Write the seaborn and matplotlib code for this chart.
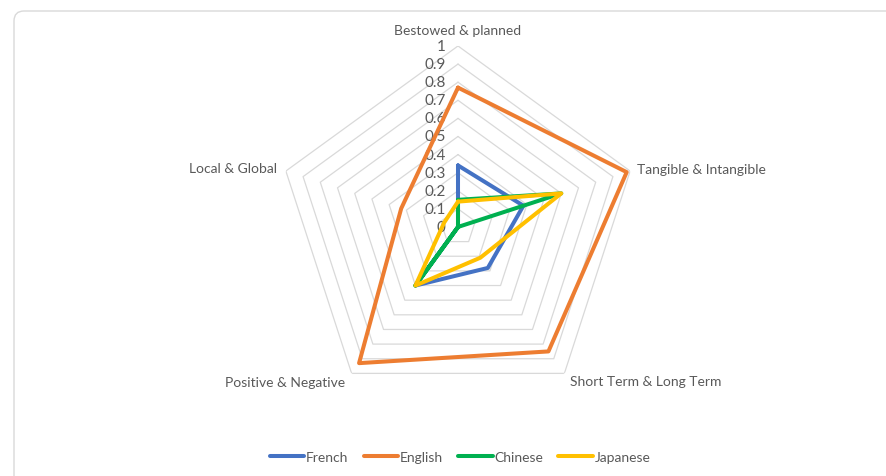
import numpy as np
import pandas as pd
import matplotlib
matplotlib.use('Agg')
import matplotlib.pyplot as plt
from matplotlib.patches import FancyBboxPatch
import seaborn as sns

categories = ['Bestowed & planned', 'Tangible & Intangible', 'Short Term & Long Term',
              'Positive & Negative', 'Local & Global']
french = [0.34, 0.38, 0.28, 0.40, 0.0]
english = [0.77, 0.98, 0.85, 0.93, 0.33]
chinese = [0.15, 0.60, 0.0, 0.40, 0.0]
japanese = [0.14, 0.60, 0.21, 0.40, 0.08]
ticks = [0, 0.1, 0.2, 0.3, 0.4, 0.5, 0.6, 0.7, 0.8, 0.9, 1]
tick_labels = ['0', '0.1', '0.2', '0.3', '0.4', '0.5', '0.6', '0.7', '0.8', '0.9', '1']

series = {'French': french, 'English': english, 'Chinese': chinese, 'Japanese': japanese}
colors = {'French': '#4472C4', 'English': '#ED7D31', 'Chinese': '#00B050', 'Japanese': '#FFC000'}

sns.set_style('white')
plt.rcParams['font.family'] = ['Lato', 'DejaVu Sans']
text_color = '#595959'

n = len(categories)
angles = np.linspace(0, 2 * np.pi, n, endpoint=False)
angles_closed = np.append(angles, 2 * np.pi)

# long form table, each series closed back to its first point
rows = []
for name, vals in series.items():
    for a, v in zip(angles_closed, vals + vals[:1]):
        rows.append({'theta': a, 'value': v, 'language': name})
df = pd.DataFrame(rows)

fig = plt.figure(figsize=(8.87, 4.77), dpi=100)
ax = fig.add_axes([0.3123, 0.1426, 0.4081, 0.759], projection='polar')
ax.set_theta_offset(np.pi / 2)
ax.set_theta_direction(-1)
ax.set_ylim(0, 1)
ax.grid(False)
ax.spines['polar'].set_visible(False)
ax.set_xticks([])
ax.set_yticks([])
ax.patch.set_alpha(0)

# pentagon gridlines
for t in ticks[1:]:
    ax.plot(angles_closed, [t] * (n + 1), color='#d9d9d9', lw=0.9, zorder=1)

# tick labels along the top axis
for t, lab in zip(ticks, tick_labels):
    ax.annotate(lab, xy=(0, t), xytext=(-9, 0), textcoords='offset points',
                ha='right', va='center', fontsize=11, color=text_color, zorder=2)

sns.lineplot(data=df, x='theta', y='value', hue='language', hue_order=list(series.keys()),
             palette=colors, sort=False, estimator=None, lw=2.9, ax=ax, zorder=3)

# category labels
label_pos = [(1.09, 'center', 'center'), (1.04, 'left', 'center'), (1.05, 'left', 'center'),
             (1.06, 'right', 'center'), (1.05, 'right', 'center')]
for a, cat, (r, ha, va) in zip(angles, categories, label_pos):
    ax.text(a, r, cat, ha=ha, va=va, fontsize=10, color=text_color)

ax.set_xlabel('')
ax.set_ylabel('')
handles, labels = ax.get_legend_handles_labels()
ax.get_legend().remove()
fig.legend(handles, labels, loc='center', bbox_to_anchor=(460 / 887, 1 - 458 / 477),
           ncol=4, frameon=False, handlelength=2.5, handletextpad=0.1, columnspacing=1.1,
           fontsize=10, labelcolor=text_color)

# chart frame
frame = FancyBboxPatch((14, -30), 900, 495, boxstyle='round,pad=0,rounding_size=10',
                       transform=None, facecolor='none', edgecolor='#d9d9d9', lw=1)
fig.add_artist(frame)

fig.savefig('out.png', dpi=100)
